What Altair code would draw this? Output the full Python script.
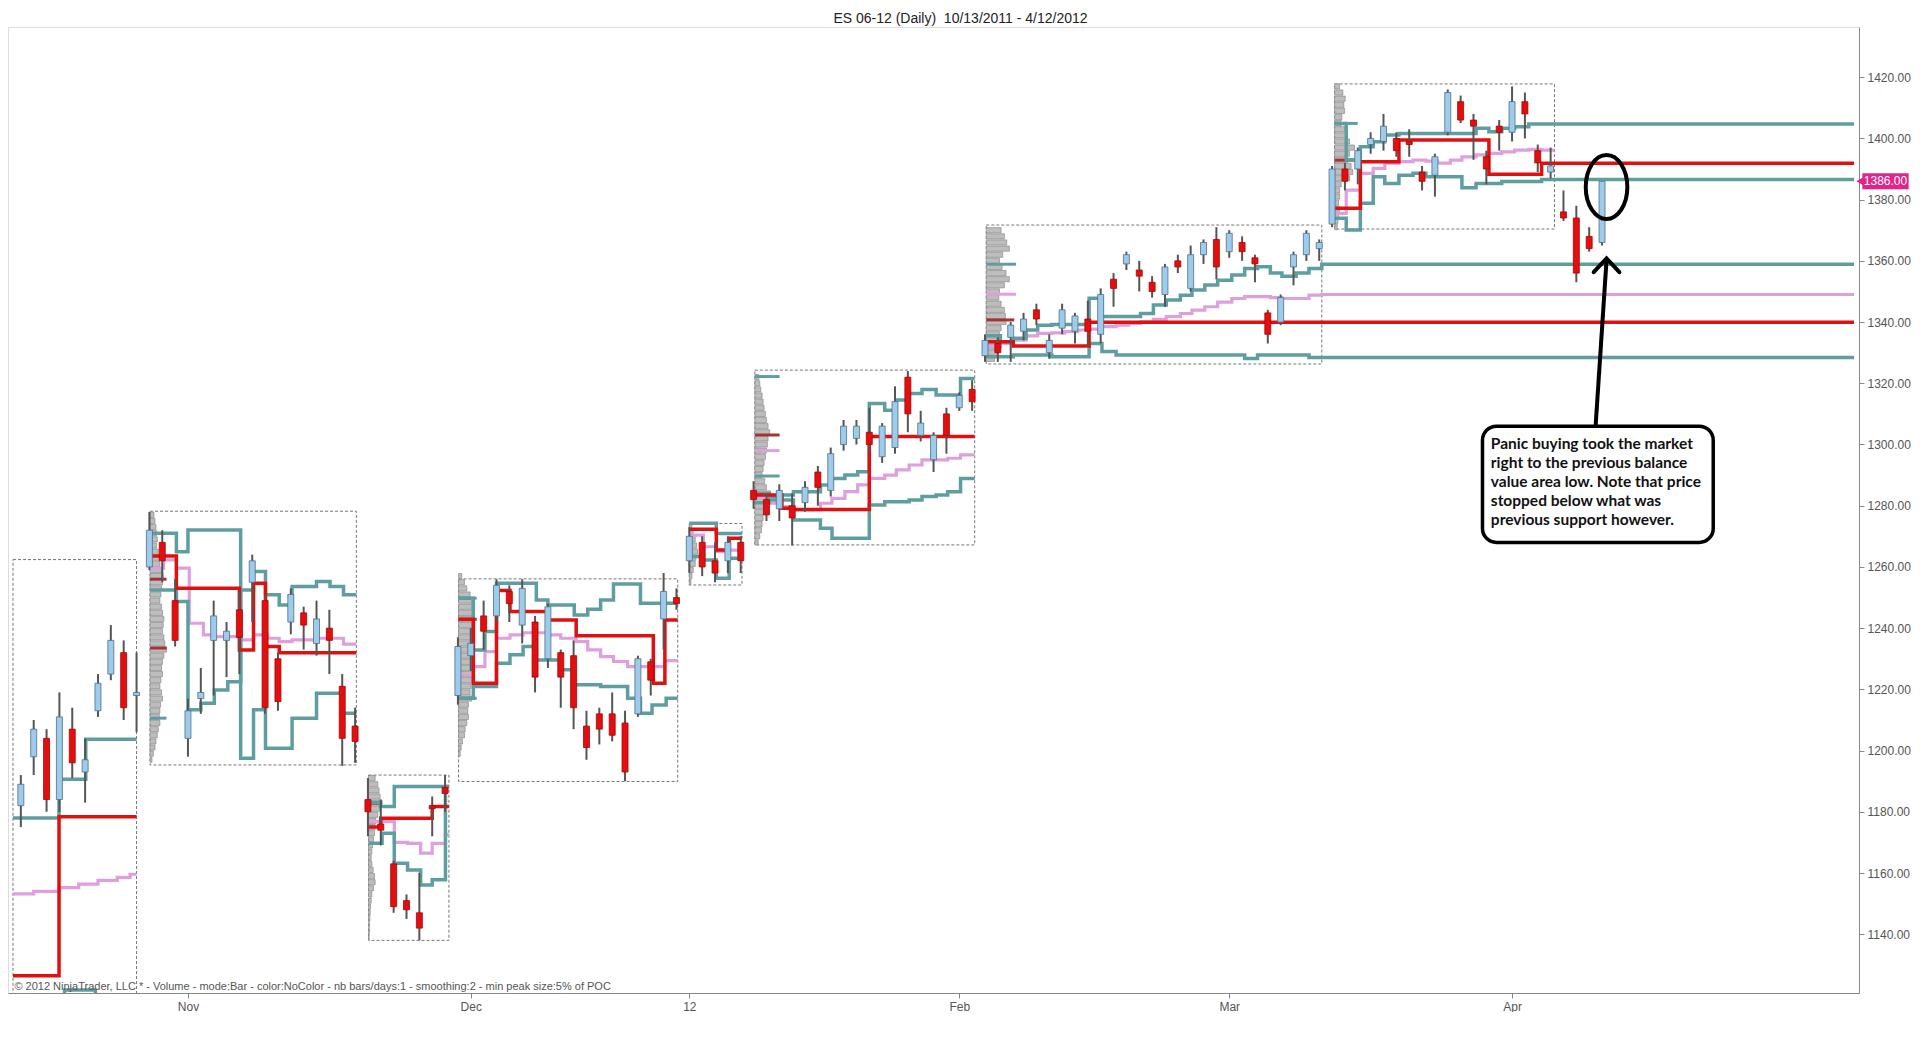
import altair as alt
import pandas as pd

TITLE = "ES 06-12 (Daily)\u00a0 10/13/2011 - 4/12/2012"
FOOTER = ("\u00a9 2012 NinjaTrader, LLC  * - Volume - mode:Bar - color:NoColor - nb bars/days:1 "
          "- smoothing:2 - min peak size:5% of POC")

# ---------------- daily candles (bar index = position in list) ----------------
OPEN = [1182, 1198, 1204, 1184, 1207, 1193, 1213, 1225, 1232, 1218,
        1260, 1268, 1249, 1204, 1217, 1236, 1236, 1246, 1255, 1249,
        1230, 1242, 1245, 1235, 1240, 1221, 1208, 1184, 1176, 1163,
        1151, 1147, 1182, 1188, 1218, 1231, 1244, 1244, 1252, 1241,
        1242, 1230, 1232, 1231, 1208, 1212, 1212, 1209, 1212, 1229,
        1243, 1250, 1262, 1268, 1262, 1262, 1268, 1285, 1282, 1279,
        1280, 1281, 1291, 1285, 1300, 1302, 1304, 1296, 1299, 1322,
        1303, 1295, 1310, 1312, 1318, 1329, 1333, 1335, 1337, 1344,
        1330, 1338, 1337, 1341, 1336, 1354, 1359, 1357, 1353, 1349,
        1360, 1351, 1362, 1367, 1363, 1366, 1361, 1343, 1340, 1358,
        1362, 1364, 1372, 1390, 1390, 1398, 1399, 1400, 1399, 1389,
        1388, 1402, 1412, 1406, 1394, 1404, 1402, 1412, 1396, 1389,
        1376, 1374, 1368, 1366]
HIGH = [1192, 1210, 1207, 1219, 1214, 1204, 1225, 1241, 1236, 1232,
        1278, 1272, 1256, 1217, 1227, 1249, 1242, 1252, 1264, 1251,
        1232, 1253, 1247, 1249, 1246, 1225, 1214, 1191, 1184, 1164,
        1153, 1160, 1185, 1192, 1237, 1240, 1249, 1256, 1254, 1256,
        1244, 1248, 1233, 1236, 1213, 1214, 1219, 1213, 1231, 1230,
        1258, 1253, 1273, 1270, 1268, 1270, 1270, 1288, 1284, 1287,
        1284, 1288, 1293, 1299, 1308, 1308, 1312, 1307, 1319, 1324,
        1311, 1304, 1312, 1317, 1321, 1336, 1335, 1340, 1343, 1346,
        1336, 1346, 1343, 1347, 1351, 1356, 1363, 1360, 1355, 1359,
        1362, 1365, 1367, 1371, 1370, 1368, 1362, 1344, 1349, 1363,
        1370, 1367, 1391, 1392, 1397, 1402, 1408, 1402, 1403, 1391,
        1395, 1416, 1414, 1408, 1396, 1406, 1417, 1415, 1398, 1397,
        1383, 1378, 1371, 1386]
LOW = [1175, 1192, 1180, 1180, 1191, 1183, 1211, 1223, 1210, 1206,
       1259, 1255, 1234, 1198, 1212, 1218, 1224, 1225, 1242, 1212,
       1213, 1238, 1233, 1231, 1225, 1195, 1196, 1172, 1169, 1147,
       1145, 1138, 1172, 1180, 1215, 1226, 1233, 1242, 1242, 1235,
       1219, 1227, 1214, 1207, 1197, 1202, 1203, 1190, 1211, 1218,
       1233, 1246, 1258, 1257, 1255, 1258, 1258, 1279, 1275, 1275,
       1267, 1278, 1280, 1283, 1298, 1300, 1298, 1294, 1297, 1304,
       1301, 1291, 1297, 1311, 1311, 1327, 1327, 1327, 1334, 1339,
       1328, 1336, 1333, 1332, 1333, 1345, 1357, 1350, 1348, 1345,
       1356, 1350, 1359, 1354, 1361, 1360, 1353, 1333, 1339, 1352,
       1360, 1360, 1371, 1383, 1385, 1395, 1396, 1394, 1394, 1383,
       1381, 1401, 1405, 1393, 1385, 1396, 1399, 1400, 1389, 1387,
       1373, 1353, 1363, 1365]
CLOSE = [1189, 1207, 1184, 1211, 1196, 1197, 1222, 1236, 1214, 1219,
         1272, 1262, 1236, 1213, 1219, 1244, 1239, 1237, 1262, 1214,
         1216, 1251, 1241, 1243, 1236, 1204, 1203, 1180, 1174, 1149,
         1148, 1142, 1181, 1186, 1234, 1235, 1239, 1254, 1248, 1253,
         1224, 1247, 1224, 1214, 1201, 1207, 1205, 1193, 1230, 1223,
         1252, 1248, 1270, 1260, 1258, 1268, 1262, 1282, 1277, 1285,
         1276, 1286, 1286, 1297, 1306, 1306, 1300, 1306, 1314, 1310,
         1307, 1303, 1303, 1316, 1314, 1334, 1330, 1339, 1341, 1341,
         1334, 1344, 1342, 1337, 1349, 1351, 1362, 1355, 1350, 1358,
         1358, 1362, 1366, 1358, 1369, 1363, 1359, 1336, 1348, 1362,
         1369, 1366, 1390, 1386, 1396, 1400, 1404, 1396, 1398, 1386,
         1394, 1415, 1406, 1404, 1390, 1402, 1412, 1408, 1392, 1391,
         1374, 1356, 1364, 1386]

# ---------------- month tick labels (bar index -> label) ----------------
MONTH_BARS = [13, 35, 52, 73, 94, 116]
MONTH_LABELS = ["Nov", "Dec", "12", "Feb", "Mar", "Apr"]
PRICE_TICKS = [1140, 1160, 1180, 1200, 1220, 1240, 1260, 1280, 1300, 1320,
               1340, 1360, 1380, 1400, 1420]

# ---------------- balance areas (dashed boxes) ----------------
BOX_LEFT = [-0.61, 10.05, 27.05, 34.05, 52.0, 57.1, 75.1, 102.2]
BOX_RIGHT = [9.0, 26.1, 33.3, 51.1, 56.1, 74.2, 101.2, 119.3]
BOX_TOP = [1262.4, 1278.2, 1192.0, 1256.1, 1274.2, 1324.3, 1371.7, 1417.8]
BOX_BOTTOM = [1100.0, 1195.3, 1138.0, 1189.9, 1254.1, 1267.2, 1326.3, 1370.4]

# ---------------- developing value-area / POC / mid lines (bar, price) ----------------
B1_TEAL_A = [(-0.61, 1178.0), (2.97, 1190.6), (5.05, 1203.7)]
B1_TEAL_B = [(-0.61, 1110.0), (3.4, 1121.8), (5.8, 1110.0)]
B1_RED = [(-0.61, 1126.4), (2.97, 1178.4)]
B1_PINK = [(-0.61, 1153.2), (1.0, 1154.0), (3.0, 1155.2), (4.5, 1156.4), (6.0, 1157.6),
           (7.5, 1158.6), (8.5, 1159.6)]

B2_TEAL_A = [(10.05, 1271.0), (12.1, 1265.0), (13.0, 1272.1), (17.1, 1197.5), (18.1, 1213.3),
             (19.03, 1200.8), (21.1, 1210.6), (23.0, 1218.7), (25.0, 1212.2)]
B2_TEAL_B = [(10.05, 1252.5), (12.1, 1248.7), (13.0, 1213.3), (14.0, 1215.5), (15.05, 1219.8),
             (16.1, 1222.5), (17.1, 1252.5), (18.1, 1258.5), (19.03, 1250.9), (20.1, 1247.6),
             (21.1, 1253.6), (23.0, 1255.2), (24.05, 1253.6), (25.1, 1250.9)]
B2_RED = [(10.05, 1263.6), (12.1, 1253.0), (17.0, 1232.9), (18.1, 1254.7), (19.03, 1234.0),
          (20.1, 1232.0)]
B2_PINK = [(10.05, 1259.6), (11.1, 1262.3), (12.1, 1259.6), (13.1, 1241.6), (14.2, 1237.8),
           (15.1, 1237.2), (17.1, 1236.2), (18.1, 1237.8), (19.2, 1236.7), (20.1, 1235.6),
           (21.1, 1236.2), (23.0, 1236.7), (25.1, 1234.8)]

B3_TEAL_A = [(27.05, 1183.0), (28.0, 1181.7), (29.05, 1188.3)]
B3_TEAL_B = [(27.05, 1169.7), (28.1, 1173.0), (29.05, 1163.2), (30.08, 1161.0), (31.1, 1156.1),
             (32.0, 1157.8), (33.03, 1188.3)]
B3_RED = [(27.05, 1175.0), (28.0, 1177.9), (32.0, 1181.7)]
B3_PINK = [(27.05, 1176.8), (29.05, 1170.0), (30.08, 1169.7), (31.1, 1166.5), (32.0, 1169.7),
           (33.03, 1172.5)]

B4_TEAL_A = [(34.05, 1249.8), (35.2, 1232.9), (36.1, 1238.9), (37.0, 1254.7), (40.1, 1249.2),
             (41.0, 1247.6), (43.05, 1244.3), (44.1, 1246.2), (45.1, 1249.2), (46.1, 1254.4),
             (48.2, 1248.1)]
B4_TEAL_B = [(34.05, 1217.1), (35.2, 1220.9), (37.0, 1228.5), (38.05, 1231.3), (39.07, 1234.0),
             (40.1, 1229.6), (42.0, 1226.4), (43.05, 1221.5), (45.1, 1220.9), (47.2, 1217.1),
             (48.2, 1212.2), (49.1, 1214.9), (50.2, 1217.1)]
B4_RED = [(34.05, 1242.9), (35.2, 1222.0), (37.0, 1252.3), (38.05, 1245.4), (41.0, 1242.7),
          (43.2, 1237.5), (49.2, 1222.0), (50.1, 1242.7)]
B4_PINK = [(34.05, 1224.7), (35.2, 1227.4), (36.1, 1232.3), (37.0, 1236.7), (38.05, 1237.8),
           (39.07, 1238.5), (41.0, 1237.8), (42.0, 1236.7), (43.2, 1235.6), (44.1, 1232.9),
           (45.1, 1230.7), (46.1, 1229.1), (47.2, 1227.4), (50.1, 1229.4)]

B5_TEAL_A = [(52.0, 1274.3), (54.1, 1270.9)]
B5_TEAL_B = [(52.0, 1263.4), (53.1, 1262.3), (54.1, 1256.3), (55.1, 1262.8)]
B5_RED = [(52.0, 1272.3), (54.1, 1265.5), (55.1, 1269.4)]
B5_PINK = [(52.0, 1270.4), (53.1, 1266.6), (54.1, 1265.0), (55.1, 1265.5)]

B6_TEAL_A = [(57.1, 1284.0), (58.2, 1282.9), (59.2, 1283.5), (60.1, 1284.6), (62.2, 1286.8),
             (63.1, 1288.9), (64.1, 1290.0), (65.1, 1291.1), (66.0, 1313.4), (67.2, 1311.2),
             (68.1, 1314.5), (69.1, 1316.7), (70.1, 1318.0), (71.2, 1316.2), (73.1, 1321.6)]
B6_TEAL_B = [(57.1, 1281.0), (58.2, 1281.9), (60.1, 1275.3), (62.2, 1272.6), (63.1, 1269.4),
             (66.0, 1280.2), (67.2, 1281.3), (69.1, 1281.9), (70.1, 1283.0), (71.2, 1283.5),
             (72.1, 1284.6), (73.1, 1288.9)]
B6_RED = [(57.1, 1283.5), (59.2, 1279.2), (60.1, 1278.8), (66.0, 1302.6)]
B6_PINK = [(57.1, 1282.9), (58.2, 1280.8), (59.2, 1279.7), (60.1, 1278.6), (62.2, 1280.8),
           (63.1, 1282.4), (64.1, 1284.6), (65.1, 1286.8), (66.0, 1288.9), (67.2, 1290.0),
           (68.1, 1291.7), (69.1, 1293.3), (70.1, 1295.0), (72.1, 1295.5), (73.1, 1296.6)]

B7_TEAL_A = [(75.1, 1335.5), (76.2, 1333.6), (77.2, 1334.7), (78.2, 1337.4), (79.1, 1339.0),
             (80.2, 1339.2), (83.1, 1347.8), (84.1, 1341.8), (87.1, 1342.8), (88.1, 1345.6),
             (89.1, 1347.2), (90.2, 1348.8), (91.1, 1350.5), (92.1, 1352.1), (93.1, 1353.7),
             (94.2, 1355.4), (95.2, 1357.5), (96.2, 1358.1), (97.2, 1356.0), (98.1, 1355.0),
             (99.2, 1356.0), (100.2, 1357.5), (101.2, 1358.9)]
B7_TEAL_B = [(75.1, 1328.7), (77.2, 1329.2), (80.2, 1328.7), (83.1, 1333.0), (84.1, 1330.4),
             (85.2, 1329.2), (95.2, 1328.1), (96.2, 1329.2), (100.2, 1328.4)]
B7_RED = [(75.1, 1333.6), (77.2, 1332.2), (83.1, 1339.9)]
B7_PINK = [(75.1, 1332.0), (76.2, 1333.0), (77.2, 1334.1), (78.2, 1335.5), (79.1, 1336.3),
           (80.2, 1336.5), (81.2, 1336.9), (82.2, 1337.4), (83.1, 1337.7), (84.1, 1338.5),
           (85.2, 1339.0), (86.2, 1339.6), (87.1, 1340.1), (88.1, 1340.9), (89.1, 1341.8),
           (90.2, 1342.8), (91.1, 1343.9), (92.1, 1345.0), (93.1, 1346.5), (94.2, 1347.7),
           (95.2, 1348.3), (97.2, 1348.0), (98.1, 1347.7), (100.2, 1348.8), (101.2, 1349.0)]

B8_TEAL_A = [(102.2, 1404.9), (103.1, 1393.0), (104.2, 1397.3), (105.2, 1398.9), (106.1, 1401.1),
             (107.2, 1401.6), (113.2, 1403.3), (114.2, 1402.2), (115.2, 1403.3), (116.2, 1403.8),
             (117.3, 1404.7)]
B8_TEAL_B = [(102.2, 1373.9), (103.1, 1370.1), (104.2, 1378.8), (105.2, 1387.5), (106.1, 1385.3),
             (107.2, 1388.0), (108.3, 1388.6), (109.3, 1387.5), (112.1, 1383.9), (113.2, 1385.3),
             (115.2, 1385.9), (118.3, 1386.6)]
B8_RED = [(102.2, 1377.2), (104.2, 1392.4), (107.2, 1399.5), (114.2, 1388.3), (118.3, 1391.9)]
B8_PINK = [(102.2, 1375.5), (103.1, 1383.1), (104.2, 1388.6), (105.2, 1390.2), (106.1, 1391.9),
           (107.2, 1392.4), (108.3, 1392.9), (109.3, 1392.6), (110.2, 1391.9), (111.2, 1392.9),
           (112.1, 1394.0), (113.2, 1394.6), (114.2, 1395.1), (115.2, 1395.6), (116.2, 1396.2),
           (117.3, 1396.4), (118.3, 1396.2)]

# ---------------- volume profiles per box: (price level, volume) ----------------
PROF_B2 = [(1277, 12), (1275, 15), (1273, 18), (1271, 20), (1269, 22), (1267, 20), (1265, 25),
           (1263, 28), (1261, 30), (1259, 35), (1257, 40), (1255, 38), (1253, 35), (1251, 33),
           (1249, 30), (1247, 35), (1245, 38), (1243, 42), (1241, 40), (1239, 38), (1237, 42),
           (1235, 45), (1233, 50), (1231, 42), (1229, 38), (1227, 35), (1225, 38), (1223, 33),
           (1221, 30), (1219, 35), (1217, 38), (1215, 32), (1213, 30), (1211, 28), (1209, 30),
           (1207, 25), (1205, 22), (1203, 18), (1201, 15), (1199, 10), (1197, 6)]
PROF_B3 = [(1191, 20), (1189, 28), (1187, 32), (1185, 35), (1183, 40), (1181, 34), (1179, 28),
           (1177, 22), (1175, 20), (1173, 18), (1171, 15), (1169, 12), (1167, 10), (1165, 8),
           (1163, 10), (1161, 14), (1159, 18), (1157, 20), (1155, 15), (1153, 10), (1151, 8),
           (1149, 6), (1147, 5), (1145, 4), (1143, 3), (1141, 3), (1139, 2)]
PROF_B4 = [(1257, 10), (1255, 18), (1253, 25), (1251, 35), (1249, 40), (1247, 40), (1245, 42),
           (1243, 48), (1241, 45), (1239, 42), (1237, 38), (1235, 40), (1233, 45), (1231, 40),
           (1229, 38), (1227, 42), (1225, 45), (1223, 40), (1221, 38), (1219, 35), (1217, 40),
           (1215, 30), (1213, 28), (1211, 30), (1209, 25), (1207, 20), (1205, 18), (1203, 12),
           (1201, 8), (1199, 5)]
PROF_B5 = [(1273, 8), (1271, 12), (1269, 18), (1267, 22), (1265, 25), (1263, 20), (1261, 18),
           (1259, 12), (1257, 8), (1255, 5)]
PROF_B6 = [(1322, 12), (1320, 15), (1318, 18), (1316, 22), (1314, 25), (1312, 28), (1310, 32),
           (1308, 35), (1306, 40), (1304, 45), (1302, 40), (1300, 38), (1298, 35), (1296, 32),
           (1294, 28), (1292, 25), (1290, 22), (1288, 30), (1286, 35), (1284, 48), (1282, 40),
           (1280, 35), (1278, 30), (1276, 25), (1274, 22), (1272, 20), (1270, 15), (1268, 10)]
PROF_B7 = [(1370, 45), (1368, 55), (1366, 62), (1364, 70), (1362, 50), (1360, 40), (1358, 48),
           (1356, 60), (1354, 70), (1352, 55), (1350, 40), (1348, 38), (1346, 45), (1344, 55),
           (1342, 58), (1340, 60), (1338, 45), (1336, 40), (1334, 38), (1332, 42), (1330, 35),
           (1328, 25)]
PROF_B8 = [(1417, 15), (1415, 25), (1413, 32), (1411, 28), (1409, 30), (1407, 22), (1405, 20),
           (1403, 30), (1401, 38), (1399, 45), (1397, 60), (1395, 45), (1393, 40), (1391, 50),
           (1389, 55), (1387, 45), (1385, 20), (1383, 15), (1381, 15), (1379, 12), (1377, 15),
           (1375, 12), (1373, 10), (1371, 8)]

# profile markers: (box index, price, volume, kind)
PROFILE_MARKS = [(1, 1256.0, 50, "poc"), (1, 1233.5, 50, "poc"), (1, 1210.6, 50, "va"),
                 (2, 1182.8, 40, "poc"), (3, 1249.8, 55, "va"), (3, 1242.9, 55, "poc"),
                 (3, 1217.1, 55, "va"), (5, 1322.2, 75, "va"), (5, 1303.1, 75, "poc"),
                 (5, 1298.0, 75, "mid"), (5, 1289.7, 75, "va"), (6, 1358.9, 90, "va"),
                 (6, 1349.1, 90, "mid"), (6, 1340.7, 85, "poc"), (7, 1404.9, 70, "va"),
                 (7, 1392.9, 70, "poc")]

# ---------------- annotation ----------------
NOTE_LINES = ["Panic buying took the market", "right to the previous balance",
              "value area low. Note that price", "stopped below what was",
              "previous support however."]
LAST_PRICE = 1386.00

# ---------------- layout constants ----------------
X_MIN, X_MAX = -0.61, 142.6
Y_MIN, Y_MAX = 1120.8, 1436.4
W, H = 1851, 966
VOL_PER_BAR = 39.0
TEAL, RED, PINK = "#5f9ea0", "#e01010", "#dda0dd"

xs = alt.Scale(domain=[X_MIN, X_MAX], nice=False, zero=False)
ys = alt.Scale(domain=[Y_MIN, Y_MAX], nice=False, zero=False)

label_expr = "".join(f"datum.value == {b} ? '{l}' : " for b, l in zip(MONTH_BARS, MONTH_LABELS)) + "''"
X_AXIS = alt.Axis(values=MONTH_BARS, labelExpr=label_expr, grid=False, title=None,
                  labelFont="Liberation Sans", labelFontSize=12, labelColor="#555",
                  tickColor="#888", domainColor="#888", tickSize=5, labelPadding=3)
Y_AXIS = alt.Axis(values=PRICE_TICKS, format=".2f", orient="right", grid=False, title=None,
                  labelFont="Liberation Sans", labelFontSize=12, labelColor="#555",
                  tickColor="#888", domainColor="#888", tickSize=5, labelPadding=3)


def X(f):
    return alt.X(f, type="quantitative", scale=xs, axis=X_AXIS)


def Y(f):
    return alt.Y(f, type="quantitative", scale=ys, axis=Y_AXIS)


# ---------------- build tables ----------------
candles = pd.DataFrame({"bar": list(range(len(OPEN))), "open": OPEN, "high": HIGH,
                        "low": LOW, "close": CLOSE})
candles["dir"] = ["up" if c >= o else "down" for o, c in zip(OPEN, CLOSE)]
candles["blo"] = candles[["open", "close"]].min(axis=1)
candles["bhi"] = candles[["open", "close"]].max(axis=1)
candles.loc[candles["bhi"] - candles["blo"] < 0.8, "bhi"] = candles["blo"] + 0.8

boxes = pd.DataFrame({"l": BOX_LEFT, "r": BOX_RIGHT, "t": BOX_TOP, "b": BOX_BOTTOM})

SERIES = [
    (0, "teal", B1_TEAL_A, False), (0, "teal", B1_TEAL_B, False), (0, "red", B1_RED, False),
    (0, "pink", B1_PINK, False),
    (1, "teal", B2_TEAL_A, False), (1, "teal", B2_TEAL_B, False), (1, "red", B2_RED, False),
    (1, "pink", B2_PINK, False),
    (2, "teal", B3_TEAL_A, False), (2, "teal", B3_TEAL_B, False), (2, "red", B3_RED, False),
    (2, "pink", B3_PINK, False),
    (3, "teal", B4_TEAL_A, False), (3, "teal", B4_TEAL_B, False), (3, "red", B4_RED, False),
    (3, "pink", B4_PINK, False),
    (4, "teal", B5_TEAL_A, False), (4, "teal", B5_TEAL_B, False), (4, "red", B5_RED, False),
    (4, "pink", B5_PINK, False),
    (5, "teal", B6_TEAL_A, False), (5, "teal", B6_TEAL_B, False), (5, "red", B6_RED, False),
    (5, "pink", B6_PINK, False),
    (6, "teal", B7_TEAL_A, True), (6, "teal", B7_TEAL_B, True), (6, "red", B7_RED, True),
    (6, "pink", B7_PINK, True),
    (7, "teal", B8_TEAL_A, True), (7, "teal", B8_TEAL_B, True), (7, "red", B8_RED, True),
    (7, "pink", B8_PINK, False),
]
line_rows = []
for sid, (bi, kind, pts, ext) in enumerate(SERIES):
    end_x = X_MAX if ext else BOX_RIGHT[bi]
    allpts = list(pts) + [(end_x, pts[-1][1])]
    for k, (x, y) in enumerate(allpts):
        line_rows.append({"sid": sid, "kind": kind, "x": x, "y": y, "seq": k})
lines = pd.DataFrame(line_rows)

prof_rows = []
for bi, prof in [(1, PROF_B2), (2, PROF_B3), (3, PROF_B4), (4, PROF_B5), (5, PROF_B6),
                 (6, PROF_B7), (7, PROF_B8)]:
    for lvl, vol in prof:
        prof_rows.append({"x": BOX_LEFT[bi], "x2": BOX_LEFT[bi] + vol / VOL_PER_BAR,
                          "y": lvl - 0.85, "y2": lvl + 0.85})
profiles = pd.DataFrame(prof_rows)

marks = pd.DataFrame([{"x": BOX_LEFT[bi], "x2": BOX_LEFT[bi] + vol / VOL_PER_BAR, "y": p, "kind": k}
                      for bi, p, vol, k in PROFILE_MARKS])

# ---------------- layers ----------------
box_layer = alt.Chart(boxes).mark_rect(fillOpacity=0, stroke="#777", strokeWidth=1,
                                       strokeDash=[3, 2], clip=True).encode(
    x=X("l"), x2="r", y=Y("b"), y2="t")

prof_layer = alt.Chart(profiles).mark_rect(fill="#bdbdbd", stroke="#808080",
                                           strokeWidth=0.6).encode(
    x=X("x"), x2="x2", y=Y("y"), y2="y2")

mark_layer = alt.Chart(marks).mark_rule(strokeWidth=3).encode(
    x=X("x"), x2="x2", y=Y("y"),
    color=alt.Color("kind:N", legend=None,
                    scale=alt.Scale(domain=["poc", "va", "mid"], range=["#a83232", TEAL, PINK])))


def line_layer(kind, color, width):
    return alt.Chart(lines[lines["kind"] == kind]).mark_line(
        interpolate="step-after", color=color, strokeWidth=width, clip=True).encode(
        x=X("x"), y=Y("y"), detail="sid:N", order="seq:Q")


wick_layer = alt.Chart(candles).mark_rule(color="#555555", strokeWidth=2).encode(
    x=X("bar"), y=Y("low"), y2="high")

body_layer = alt.Chart(candles).mark_bar(size=6, strokeWidth=0.8).encode(
    x=X("bar"), y=Y("blo"), y2="bhi",
    fill=alt.Fill("dir:N", legend=None,
                  scale=alt.Scale(domain=["up", "down"], range=["#9fcbea", "#e01010"])),
    stroke=alt.Stroke("dir:N", legend=None,
                      scale=alt.Scale(domain=["up", "down"], range=["#4d6f8a", "#b00000"])))

# annotation: ellipse around the last candle, arrow and callout box
ellipse = alt.Chart(pd.DataFrame({"x": [123.35], "y": [1384.1]})).mark_point(
    shape="M -0.65 0 A 0.65 1 0 1 0 0.65 0 A 0.65 1 0 1 0 -0.65 0 Z",
    size=4096, filled=False, stroke="black", strokeWidth=4, opacity=1).encode(
    x=X("x"), y=Y("y"))

arrow_shaft = alt.Chart(pd.DataFrame({"x": [122.5], "y": [1306.0], "x2": [123.35], "y2": [1360.3]})
                        ).mark_rule(color="black", strokeWidth=4).encode(
    x=X("x"), y=Y("y"), x2="x2", y2="y2")
arrow_head = alt.Chart(pd.DataFrame({"x": [122.35, 123.35, 124.35], "y": [1356.3, 1360.8, 1356.3],
                                     "o": [0, 1, 2]})).mark_line(
    color="black", strokeWidth=4, strokeCap="round", strokeJoin="miter").encode(
    x=X("x"), y=Y("y"), order="o:Q")

note_box = alt.Chart(pd.DataFrame({"x": [113.7], "x2": [131.65], "y": [1268.0], "y2": [1306.0]})
                     ).mark_rect(fill="white", stroke="black", strokeWidth=3.5,
                                 cornerRadius=14).encode(
    x=X("x"), x2="x2", y=Y("y"), y2="y2")
note_text = alt.Chart(pd.DataFrame({"t": NOTE_LINES, "x": [114.35] * len(NOTE_LINES),
                                    "y": [1300.0 - 6.2 * i for i in range(len(NOTE_LINES))]})
                      ).mark_text(align="left", baseline="middle", font="Lato", fontSize=15.5,
                                  fontWeight="bold", color="#111").encode(
    x=X("x"), y=Y("y"), text="t:N")

# last price tag on the axis
tag_rect = alt.Chart(pd.DataFrame({"x": [143.25], "x2": [146.85], "y": [LAST_PRICE - 2.6],
                                   "y2": [LAST_PRICE + 2.6]})).mark_rect(fill="#e0248c").encode(
    x=X("x"), x2="x2", y=Y("y"), y2="y2")
tag_tip = alt.Chart(pd.DataFrame({"x": [143.1], "y": [LAST_PRICE]})).mark_point(
    shape="triangle-left", size=90, filled=True, color="#e0248c", opacity=1).encode(
    x=X("x"), y=Y("y"))
tag_text = alt.Chart(pd.DataFrame({"x": [145.05], "y": [LAST_PRICE], "t": [f"{LAST_PRICE:.2f}"]})
                     ).mark_text(font="Liberation Sans", fontSize=12, color="white",
                                 align="center", baseline="middle").encode(
    x=X("x"), y=Y("y"), text="t:N")

footer = alt.Chart(pd.DataFrame({"x": [-0.5], "y": [1122.8], "t": [FOOTER]})).mark_text(
    align="left", baseline="middle", font="Liberation Sans Narrow, Liberation Sans",
    fontSize=11, color="#555").encode(x=X("x"), y=Y("y"), text="t:N")

chart = alt.layer(
    box_layer, prof_layer, mark_layer,
    line_layer("pink", PINK, 3.2), line_layer("teal", TEAL, 3.5), line_layer("red", RED, 3.5),
    wick_layer, body_layer,
    ellipse, arrow_shaft, arrow_head, note_box, note_text,
    tag_rect, tag_tip, tag_text, footer,
).resolve_scale(color="independent", fill="independent", stroke="independent").properties(
    width=W, height=H, padding={"left": 0, "top": 4, "right": 0, "bottom": 0},
    title=alt.TitleParams(TITLE, font="Liberation Sans", fontSize=14, fontWeight="normal",
                          color="#222", anchor="middle", offset=1, dx=27),
).configure_view(stroke="#888", strokeWidth=1).configure(background="white")

chart.save("out.html", embed_options={"renderer": "svg", "actions": False})
